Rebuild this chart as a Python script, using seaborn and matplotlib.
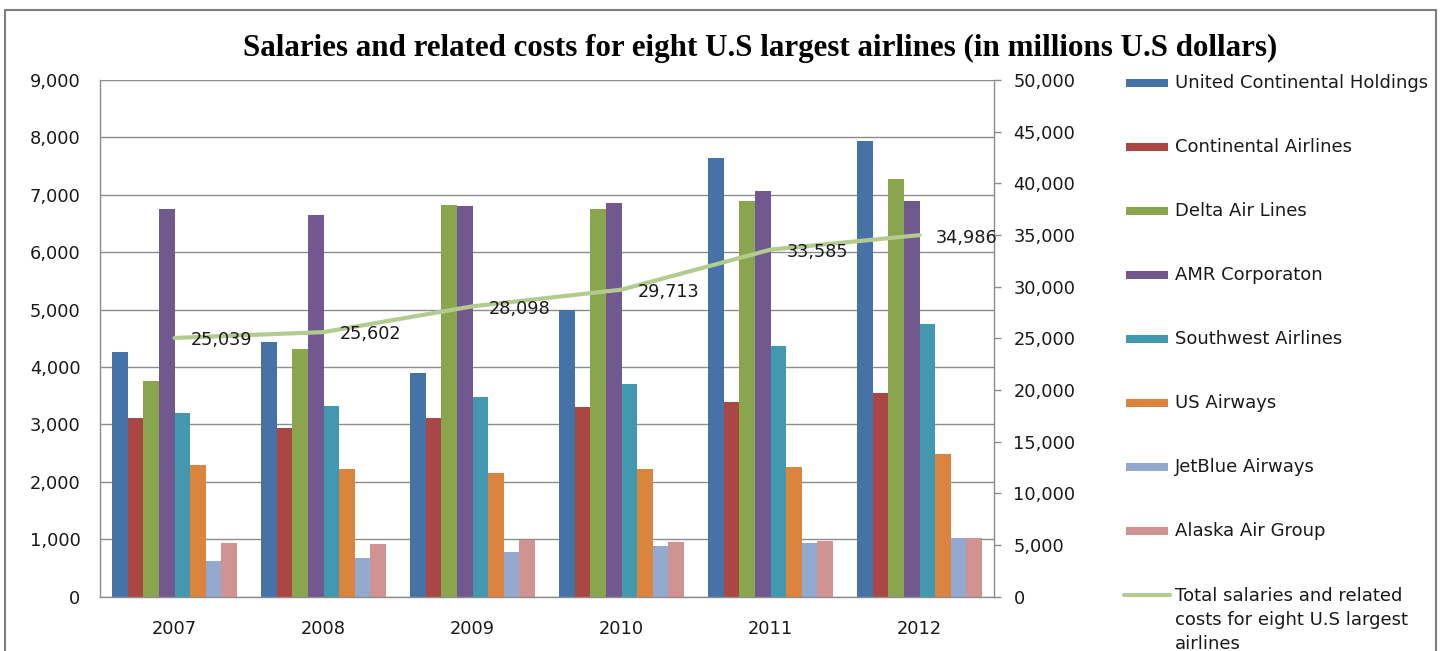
import matplotlib
matplotlib.use('Agg')
import matplotlib.pyplot as plt
import seaborn as sns
import pandas as pd
import numpy as np
from matplotlib.patches import Rectangle
from matplotlib.lines import Line2D
from matplotlib.ticker import FuncFormatter, MultipleLocator

# ---------------- data ----------------
years = ['2007', '2008', '2009', '2010', '2011', '2012']
airlines = ['United Continental Holdings', 'Continental Airlines', 'Delta Air Lines',
            'AMR Corporaton', 'Southwest Airlines', 'US Airways', 'JetBlue Airways',
            'Alaska Air Group']
united = [4260, 4440, 3900, 5000, 7650, 7940]
continental = [3120, 2940, 3120, 3310, 3400, 3550]
delta = [3750, 4320, 6830, 6750, 6900, 7270]
amr = [6760, 6650, 6800, 6850, 7060, 6900]
southwest = [3200, 3330, 3470, 3700, 4360, 4750]
usairways = [2290, 2220, 2150, 2230, 2260, 2480]
jetblue = [630, 680, 770, 880, 930, 1020]
alaska = [940, 920, 980, 950, 970, 1020]
totals = [25039, 25602, 28098, 29713, 33585, 34986]
total_label = 'Total salaries and related\ncosts for eight U.S largest\nairlines'
title = 'Salaries and related costs for eight U.S largest airlines (in millions U.S dollars)'

colors = ['#4572A7', '#AA4643', '#89A54E', '#71588F', '#4198AF', '#DB843D', '#93A9CF', '#D19392']
line_color = '#B3CB8F'
grid_color = '#8C8C8C'
text_color = '#1A1A1A'

series = [united, continental, delta, amr, southwest, usairways, jetblue, alaska]
df = pd.DataFrame({
    'year': [y for s in series for y in years],
    'airline': [a for a, s in zip(airlines, series) for _ in s],
    'value': [v for s in series for v in s],
})

# ---------------- figure ----------------
sns.set_theme(style='white')
plt.rcParams['font.family'] = ['DejaVu Sans']

W, H = 1441, 651
fig = plt.figure(figsize=(W / 100, H / 100), dpi=100)
fig.patch.set_facecolor('white')
ax = fig.add_axes([100 / W, 1 - 596.7 / H, 894 / W, 516.7 / H])

sns.barplot(data=df, x='year', y='value', hue='airline', order=years, hue_order=airlines,
            palette=colors, saturation=1, width=0.84, gap=0, linewidth=0,
            legend=False, ax=ax)

ax.set_xlim(-0.5, len(years) - 0.5)
ax.set_ylim(0, 9000)
ax.yaxis.set_major_locator(MultipleLocator(1000))
ax.yaxis.set_major_formatter(FuncFormatter(lambda v, p: f'{int(v):,}'))
ax.grid(axis='y', color=grid_color, lw=1)
ax.grid(axis='x', visible=False)
ax.set_axisbelow(True)
ax.set_xlabel('')
ax.set_ylabel('')
ax.tick_params(axis='y', length=0, pad=14, labelsize=12.8, labelcolor=text_color)
ax.tick_params(axis='x', length=0, pad=16.5, labelsize=12.8, labelcolor=text_color)
for side in ['top', 'right']:
    ax.spines[side].set_visible(False)
for side in ['left', 'bottom']:
    ax.spines[side].set_color(grid_color)
    ax.spines[side].set_linewidth(1)

# secondary axis with totals line
ax2 = ax.twinx()
sns.lineplot(x=years, y=totals, ax=ax2, color=line_color, lw=3, sort=False)
ax2.set_ylim(0, 50000)
ax2.yaxis.set_major_locator(MultipleLocator(5000))
ax2.yaxis.set_major_formatter(FuncFormatter(lambda v, p: f'{int(v):,}'))
ax2.set_ylabel('')
ax2.grid(False)
ax2.tick_params(axis='y', right=True, length=5, width=1, color=grid_color, pad=9,
                labelsize=12.8, labelcolor=text_color)
for side in ['top', 'left', 'bottom']:
    ax2.spines[side].set_visible(False)
ax2.spines['right'].set_color(grid_color)
ax2.spines['right'].set_linewidth(1)

for i, t in enumerate(totals):
    ax2.annotate(f'{t:,}', xy=(i, t), xytext=(12, -1.7), textcoords='offset points',
                 ha='left', va='center', fontsize=12.7, color=text_color)

# title
fig.text(760 / W, 1 - 48 / H, title, ha='center', va='center', fontsize=22.3,
         fontweight='bold', family='Liberation Serif', color='black')

# manual legend
for i, (name, c) in enumerate(zip(airlines, colors)):
    yc = 83 + 64 * i
    fig.add_artist(Rectangle((1126 / W, 1 - (yc + 4) / H), 42 / W, 8 / H,
                             facecolor=c, edgecolor='none', transform=fig.transFigure))
    fig.text(1175 / W, 1 - yc / H, name, ha='left', va='center', fontsize=13, color=text_color)
yl = 83 + 64 * len(airlines)
fig.add_artist(Line2D([1124 / W, 1170 / W], [1 - yl / H, 1 - yl / H], color=line_color,
                      lw=3, transform=fig.transFigure))
fig.text(1175 / W, 1 - (yl - 8) / H, total_label, ha='left', va='top', fontsize=13,
         color=text_color, linespacing=1.42)

# outer chart border
fig.add_artist(Rectangle((5 / W, -0.05), (1436 - 5) / W, (1 - 10 / H) + 0.05, fill=False,
                         edgecolor='#7F7F7F', lw=1.5, transform=fig.transFigure, clip_on=False))

fig.savefig('out.png', dpi=100, facecolor='white')
